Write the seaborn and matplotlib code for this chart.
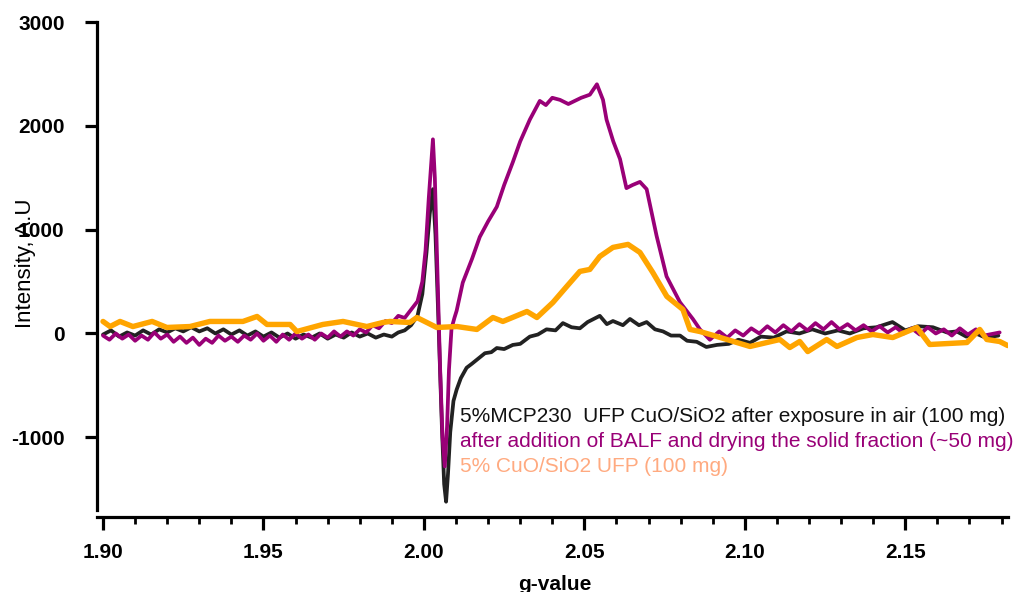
import matplotlib
matplotlib.use("Agg")
import matplotlib.pyplot as plt
from matplotlib.ticker import MultipleLocator, FixedLocator
import seaborn as sns
import pandas as pd

# ---------------- data ----------------
g_black = [1.900, 1.9025, 1.905, 1.9075, 1.910, 1.9125, 1.915, 1.9175, 1.920, 1.9225,
           1.925, 1.9275, 1.930, 1.9325, 1.935, 1.9375, 1.940, 1.9425, 1.945, 1.9475,
           1.950, 1.9525, 1.955, 1.9575, 1.960, 1.9625, 1.965, 1.9675, 1.970, 1.9725,
           1.975, 1.9775, 1.980, 1.9825, 1.985, 1.9875, 1.990, 1.992, 1.994, 1.996,
           1.998, 1.9995, 2.0008, 2.0018, 2.0028, 2.0036, 2.0046, 2.0056, 2.0063, 2.0069,
           2.0075, 2.0082, 2.0092, 2.0102, 2.0115, 2.0133, 2.015, 2.0174, 2.019, 2.021,
           2.0227, 2.025, 2.0277, 2.030, 2.033, 2.0355, 2.0382, 2.041, 2.0433, 2.046,
           2.0486, 2.051, 2.0548, 2.057, 2.0589, 2.062, 2.0642, 2.067, 2.0694, 2.072,
           2.0745, 2.077, 2.0798, 2.082, 2.085, 2.088, 2.0913, 2.095, 2.098, 2.1016,
           2.105, 2.109, 2.113, 2.117, 2.121, 2.125, 2.129, 2.1327, 2.137, 2.141,
           2.146, 2.150, 2.154, 2.1586, 2.163, 2.166, 2.169, 2.172, 2.175, 2.179]
i_black = [-10, 30, -30, 10, -20, 30, -10, 40, 10, 50,
           20, 60, 20, 50, 0, 40, -10, 30, -20, 20,
           -30, 10, -40, 0, -50, -10, -40, 0, -50, -10,
           -40, 10, -30, 0, -40, -10, -30, 10, 30, 80,
           170, 380, 780, 1150, 1390, 950, 50, -900, -1450, -1620,
           -1350, -950, -650, -540, -430, -330, -290, -230, -190, -180,
           -140, -150, -110, -100, -30, -10, 40, 30, 100, 60,
           50, 110, 170, 90, 120, 80, 140, 80, 110, 40,
           20, -20, -20, -70, -80, -130, -110, -100, -60, -90,
           -30, -40, 20, 0, 40, 0, 30, 0, 50, 60,
           110, 30, 70, 60, 10, 20, -30, 0, -40, -20]

g_purple = [1.900, 1.902, 1.904, 1.906, 1.908, 1.910, 1.912, 1.914, 1.916, 1.918,
            1.920, 1.922, 1.924, 1.926, 1.928, 1.930, 1.932, 1.934, 1.936, 1.938,
            1.940, 1.942, 1.944, 1.946, 1.948, 1.950, 1.952, 1.954, 1.956, 1.958,
            1.960, 1.962, 1.964, 1.966, 1.968, 1.970, 1.972, 1.974, 1.976, 1.978,
            1.980, 1.982, 1.984, 1.986, 1.988, 1.990, 1.992, 1.994, 1.996, 1.998,
            1.9995, 2.0005, 2.0015, 2.0022, 2.0028, 2.0034, 2.0042, 2.005, 2.0058, 2.0065,
            2.0072, 2.0078, 2.0086, 2.0095, 2.0102, 2.0121, 2.015, 2.0174, 2.020, 2.0227,
            2.025, 2.0277, 2.030, 2.033, 2.0361, 2.038, 2.040, 2.0424, 2.045, 2.047,
            2.049, 2.0517, 2.0539, 2.0558, 2.0569, 2.059, 2.0611, 2.0631, 2.065, 2.0673,
            2.0694, 2.0725, 2.0756, 2.0798, 2.0838, 2.086, 2.0891, 2.092, 2.0945, 2.097,
            2.0995, 2.102, 2.1045, 2.107, 2.1095, 2.112, 2.1145, 2.117, 2.1195, 2.122,
            2.1245, 2.127, 2.1295, 2.132, 2.1345, 2.137, 2.1395, 2.142, 2.1445, 2.147,
            2.1495, 2.152, 2.1545, 2.157, 2.1595, 2.162, 2.1645, 2.167, 2.1695, 2.172,
            2.1745, 2.1794]
i_purple = [-20, -60, 0, -50, -10, -70, -20, -60, 10, -50,
            -10, -80, -30, -90, -40, -110, -50, -90, -20, -70,
            -30, -80, -20, -60, 0, -70, -20, -80, -10, -60,
            0, -50, -10, -60, 0, -40, 20, -30, 20, -20,
            40, 10, 80, 50, 120, 100, 170, 150, 230, 310,
            500, 800, 1300, 1600, 1870, 1500, 600, -300, -1000, -1280,
            -900, -350, 50, 150, 220, 490, 720, 930, 1080, 1220,
            1430, 1650, 1850, 2060, 2240, 2200, 2270, 2250, 2210, 2240,
            2270, 2300, 2400, 2250, 2060, 1850, 1680, 1400, 1430, 1460,
            1390, 940, 550, 300, 140, 40, -60, 20, -40, 30,
            -20, 50, 0, 70, 10, 80, 20, 90, 30, 100,
            40, 110, 40, 90, 30, 80, 20, 70, 10, 60,
            0, 50, -10, 60, 0, 40, -20, 50, -10, 40,
            -20, 10]

g_orange = [1.900, 1.9022, 1.9053, 1.9093, 1.9153, 1.9199, 1.9271, 1.9333, 1.9436, 1.948,
            1.9511, 1.9583, 1.9604, 1.9685, 1.9748, 1.9822, 1.9872, 1.9894, 1.9956, 1.9978,
            2.004, 2.0103, 2.0165, 2.0215, 2.0246, 2.0321, 2.0352, 2.0402, 2.0445, 2.0486,
            2.0517, 2.0548, 2.0589, 2.0636, 2.0673, 2.0713, 2.0757, 2.0807, 2.0829, 2.086,
            2.0913, 2.1016, 2.1109, 2.114, 2.1171, 2.1196, 2.1255, 2.1287, 2.1349, 2.1399,
            2.1461, 2.1536, 2.1576, 2.1692, 2.1732, 2.1754, 2.1794, 2.1819]
i_orange = [116, 67, 116, 67, 116, 58, 67, 116, 116, 164,
            87, 87, 19, 87, 116, 67, 106, 116, 106, 154,
            58, 67, 39, 154, 116, 212, 154, 299, 453, 598,
            617, 742, 829, 858, 781, 588, 357, 231, 39, 19,
            -29, -125, -58, -135, -77, -174, -58, -125, -39, -10,
            -39, 58, -106, -87, 39, -58, -77, -116]

series_labels = ["5%MCP230  UFP CuO/SiO2 after exposure in air (100 mg)",
                 "after addition of BALF and drying the solid fraction (~50 mg)",
                 "5% CuO/SiO2 UFP (100 mg)"]
x_ticks = [1.90, 1.95, 2.00, 2.05, 2.10, 2.15]
x_tick_labels = ["1.90", "1.95", "2.00", "2.05", "2.10", "2.15"]
y_ticks = [-1000, 0, 1000, 2000, 3000]
y_tick_labels = ["-1000", "0", "1000", "2000", "3000"]

# ---------------- styling ----------------
sns.set_style("ticks")
plt.rcParams["font.family"] = ["Liberation Sans", "DejaVu Sans"]

line_colors = ["#222222", "#990077", "#FFA500"]
text_colors = ["#111111", "#990077", "#FFAA80"]
line_widths = [2.7, 2.7, 3.9]

df = pd.concat([
    pd.DataFrame({"g": g_black, "I": i_black, "s": series_labels[0]}),
    pd.DataFrame({"g": g_purple, "I": i_purple, "s": series_labels[1]}),
    pd.DataFrame({"g": g_orange, "I": i_orange, "s": series_labels[2]}),
], ignore_index=True)

fig = plt.figure(figsize=(10.24, 5.92), dpi=100)
ax = fig.add_axes([96.6 / 1024, 82 / 592, 911.4 / 1024, 488 / 592])

for k, lab in enumerate(series_labels):
    sub = df[df["s"] == lab]
    sns.lineplot(data=sub, x="g", y="I", ax=ax, color=line_colors[k],
                 linewidth=line_widths[k], sort=False, estimator=None,
                 zorder=2 + k, legend=False)

ax.set_xlim(1.898, 2.182)
ax.set_ylim(-1700, 3000)

ax.xaxis.set_major_locator(FixedLocator(x_ticks))
ax.set_xticklabels(x_tick_labels)
ax.xaxis.set_minor_locator(MultipleLocator(0.01))
ax.yaxis.set_major_locator(FixedLocator(y_ticks))
ax.set_yticklabels(y_tick_labels)

for sp in ["top", "right"]:
    ax.spines[sp].set_visible(False)
for sp in ["left", "bottom"]:
    ax.spines[sp].set_linewidth(2.3)
    ax.spines[sp].set_color("black")
ax.spines["bottom"].set_position(("outward", 5))

ax.tick_params(axis="both", which="major", direction="out", width=2.3,
               color="black", labelsize=15, labelcolor="black")
ax.tick_params(axis="x", which="major", length=9, pad=10)
ax.tick_params(axis="x", which="minor", length=5, width=2.0, color="black")
ax.tick_params(axis="y", which="major", length=9, pad=14)
for t in ax.get_xticklabels() + ax.get_yticklabels():
    t.set_fontweight("bold")

ax.set_xlabel("g-value", fontsize=15, fontweight="bold", color="black")
ax.xaxis.set_label_coords(0.503, -0.133)
ax.set_ylabel("Intensity, A.U", fontsize=16, color="black")
ax.yaxis.set_label_coords(-0.067, 0.506)

# text legend inside the plot
for k, lab in enumerate(series_labels):
    ax.text(460 / 1024, (592 - 416 - 25.5 * k) / 592, lab, transform=fig.transFigure,
            fontsize=15, color=text_colors[k], ha="left", va="center")

ax.grid(False)
fig.savefig("out.png", dpi=100)
